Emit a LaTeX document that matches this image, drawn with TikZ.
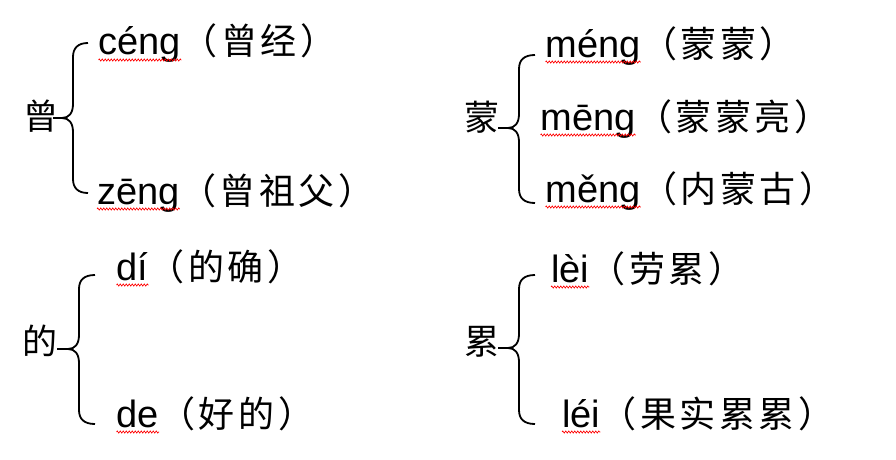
\documentclass[tikz,border=0pt]{standalone}
\usepackage{fontspec}
\setmainfont{Liberation Sans}
\newfontfamily\cjk[LetterSpace=10]{Noto Sans CJK SC}
\newfontfamily\cjklab{Noto Sans CJK SC}
\usetikzlibrary{decorations.pathmorphing}
\tikzset{
  py/.style={anchor=base west, inner sep=0pt, font=\fontsize{38}{40}\selectfont},
  cn/.style={anchor=base west, inner sep=0pt, font=\fontsize{36}{38}\selectfont\cjk},
  lab/.style={inner sep=0pt, font=\fontsize{35}{37}\selectfont\cjklab},
  bracel/.style={line width=1.8pt},
  wavy/.style={draw=red, line width=0.6pt, decorate,
    decoration={zigzag, amplitude=1.1pt, segment length=3pt}}
}
% #1 tip x, #2 tip y, #3 vertical x, #4 end x, #5 top y, #6 bottom y
\newcommand\drawbrace[6]{%
  \draw[bracel] (#4,#5) .. controls ({#3+5},#5) and (#3,{#5+5}) .. (#3,{#5+14})
    -- (#3,{#2-14}) .. controls (#3,{#2-5}) and ({#3-4},#2) .. ({#3-11},#2) -- (#1,#2);
  \draw[bracel] (#4,#6) .. controls ({#3+5},#6) and (#3,{#6-5}) .. (#3,{#6-14})
    -- (#3,{#2+14}) .. controls (#3,{#2+5}) and ({#3-4},#2) .. ({#3-11},#2);
}
\begin{document}
\begin{tikzpicture}[x=1pt,y=-1pt]
\useasboundingbox (0,0) rectangle (896,460);

% Panel 1
\node[lab] (L1) at (41,116) {曾};
\drawbrace{53}{118}{73}{88}{43}{193}
\node[py] (p11) at (98.5,55) {céng};
\node[cn] (c11) at (p11.base east) {（曾经）};
\node[py] (p12) at (97,204) {zēng};
\node[cn] (c12) at (p12.base east) {（曾祖父）};

% Panel 2
\node[lab] (L2) at (482,117) {蒙};
\drawbrace{498}{128}{519}{535}{55}{203}
\node[py] (p21) at (545.5,57) {méng};
\node[cn] (c21) at (p21.base east) {（蒙蒙）};
\node[py] (p22) at (540.5,130) {mēng};
\node[cn] (c22) at (p22.base east) {（蒙蒙亮）};
\node[py] (p23) at (545.5,202) {měng};
\node[cn] (c23) at (p23.base east) {（内蒙古）};

% Panel 3
\node[lab] (L3) at (40,341) {的};
\drawbrace{57}{349}{79}{95}{275}{424}
\node[py] (p31) at (116.5,280) {dí};
\node[cn] (c31) at (p31.base east) {（的确）};
\node[py] (p32) at (116.5,427) {de};
\node[cn] (c32) at (p32.base east) {（好的）};

% Panel 4
\node[lab] (L4) at (482,342) {累};
\drawbrace{498}{348}{519}{535}{275}{424}
\node[py] (p41) at (551,282) {lèi};
\node[cn] (c41) at (p41.base east) {（劳累）};
\node[py] (p42) at (562,427) {léi};
\node[cn] (c42) at (p42.base east) {（果实累累）};

% wavy underlines
\foreach \n in {p11,p12,p21,p22,p23,p31,p32,p41,p42}{
  \draw[wavy] ([yshift=-5pt]\n.base west) -- ([yshift=-5pt]\n.base east);
}
\end{tikzpicture}
\end{document}
